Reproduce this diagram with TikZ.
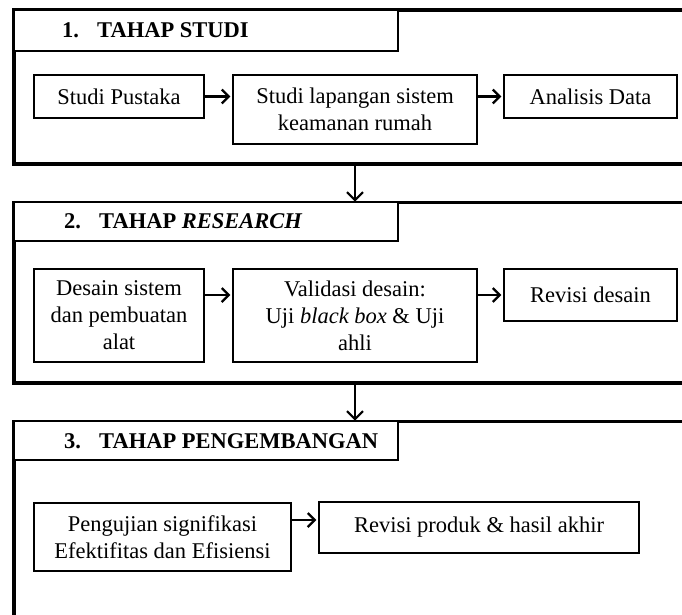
\documentclass[tikz,border=0pt]{standalone}
\usepackage{fontspec}
\setmainfont{Liberation Serif}
\usetikzlibrary{arrows.meta, positioning}

\newcommand{\headnum}[1]{\makebox[35pt][l]{#1}}

\tikzset{
  stage/.style={draw, line width=3.5pt, anchor=north west, inner sep=0pt, outer sep=0pt},
  headbox/.style={draw, fill=white, line width=1.1pt, anchor=north west, minimum width=384pt, inner sep=0pt, outer sep=0pt},
  headtext/.style={anchor=west, font=\fontsize{22.5}{27}\selectfont\bfseries, inner sep=0pt},
  stepbox/.style={draw, line width=1.1pt, align=center, inner sep=0pt},
  steparrow/.style={line width=2.4pt, -{Straight Barb[length=7pt,width=14pt]}, shorten >=2pt},
  stagearrow/.style={line width=2pt, -{Straight Barb[length=8pt,width=16pt]}, shorten >=1pt},
}

\begin{document}
\begin{tikzpicture}[x=1pt, y=-1pt, font=\fontsize{22.5}{27}\selectfont]
\useasboundingbox (0,0) rectangle (682,614);
\clip (0,0) rectangle (682,614);

% tahap studi
\node[stage, minimum width=760pt, minimum height=154pt] (stage1) at (14,10) {};
\node[headbox, minimum height=41pt] (head1) at (14,10) {};
\node[headtext] (title1) at (62,30.5) {\headnum{1.}TAHAP STUDI};
\node[stepbox, minimum width=170pt, minimum height=43pt] (pustaka) at (119,96.5) {Studi Pustaka};
\node[stepbox, minimum width=244pt, minimum height=69pt] (lapangan) at (355,109.5) {Studi lapangan sistem\\keamanan rumah};
\node[stepbox, minimum width=173pt, minimum height=43pt] (analisis) at (590.5,96.5) {Analisis Data};
\draw[steparrow] (pustaka.east) -- (pustaka.east -| lapangan.west);
\draw[steparrow] (lapangan.east |- analisis.west) -- (analisis.west);

% tahap research
\node[stage, minimum width=760pt, minimum height=180.5pt] (stage2) at (14,202.5) {};
\node[headbox, minimum height=38.5pt] (head2) at (14,202.5) {};
\node[headtext] (title2) at (64,221.7) {\headnum{2.}TAHAP \textit{RESEARCH}};
\node[stepbox, minimum width=170pt, minimum height=93pt] (desain) at (119,315.5) {Desain sistem\\dan pembuatan\\alat};
\node[stepbox, minimum width=244pt, minimum height=93pt] (validasi) at (355,315.5) {Validasi desain:\\Uji \textit{black box} \& Uji\\ahli};
\node[stepbox, minimum width=173pt, minimum height=52pt] (revdesain) at (590.5,295) {Revisi desain};
\draw[steparrow] (desain.east |- revdesain.west) -- (validasi.west |- revdesain.west);
\draw[steparrow] (validasi.east |- revdesain.west) -- (revdesain.west);

% tahap pengembangan
\node[stage, minimum width=760pt, minimum height=300pt] (stage3) at (14,421.5) {};
\node[headbox, minimum height=38.5pt] (head3) at (14,421.5) {};
\node[headtext] (title3) at (64,440.7) {\headnum{3.}TAHAP PENGEMBANGAN};
\node[stepbox, minimum width=257pt, minimum height=68pt] (pengujian) at (162.5,537) {Pengujian signifikasi\\Efektifitas dan Efisiensi};
\node[stepbox, minimum width=320pt, minimum height=51pt] (revproduk) at (479,527.5) {Revisi produk \& hasil akhir};
\draw[steparrow] ([yshift=7.5pt]revproduk.west -| pengujian.east) -- ([yshift=7.5pt]revproduk.west);

\draw[stagearrow] (lapangan.south |- stage1.south) -- (lapangan.south |- stage2.north);
\draw[stagearrow] (validasi.south |- stage2.south) -- (validasi.south |- stage3.north);
\end{tikzpicture}
\end{document}
